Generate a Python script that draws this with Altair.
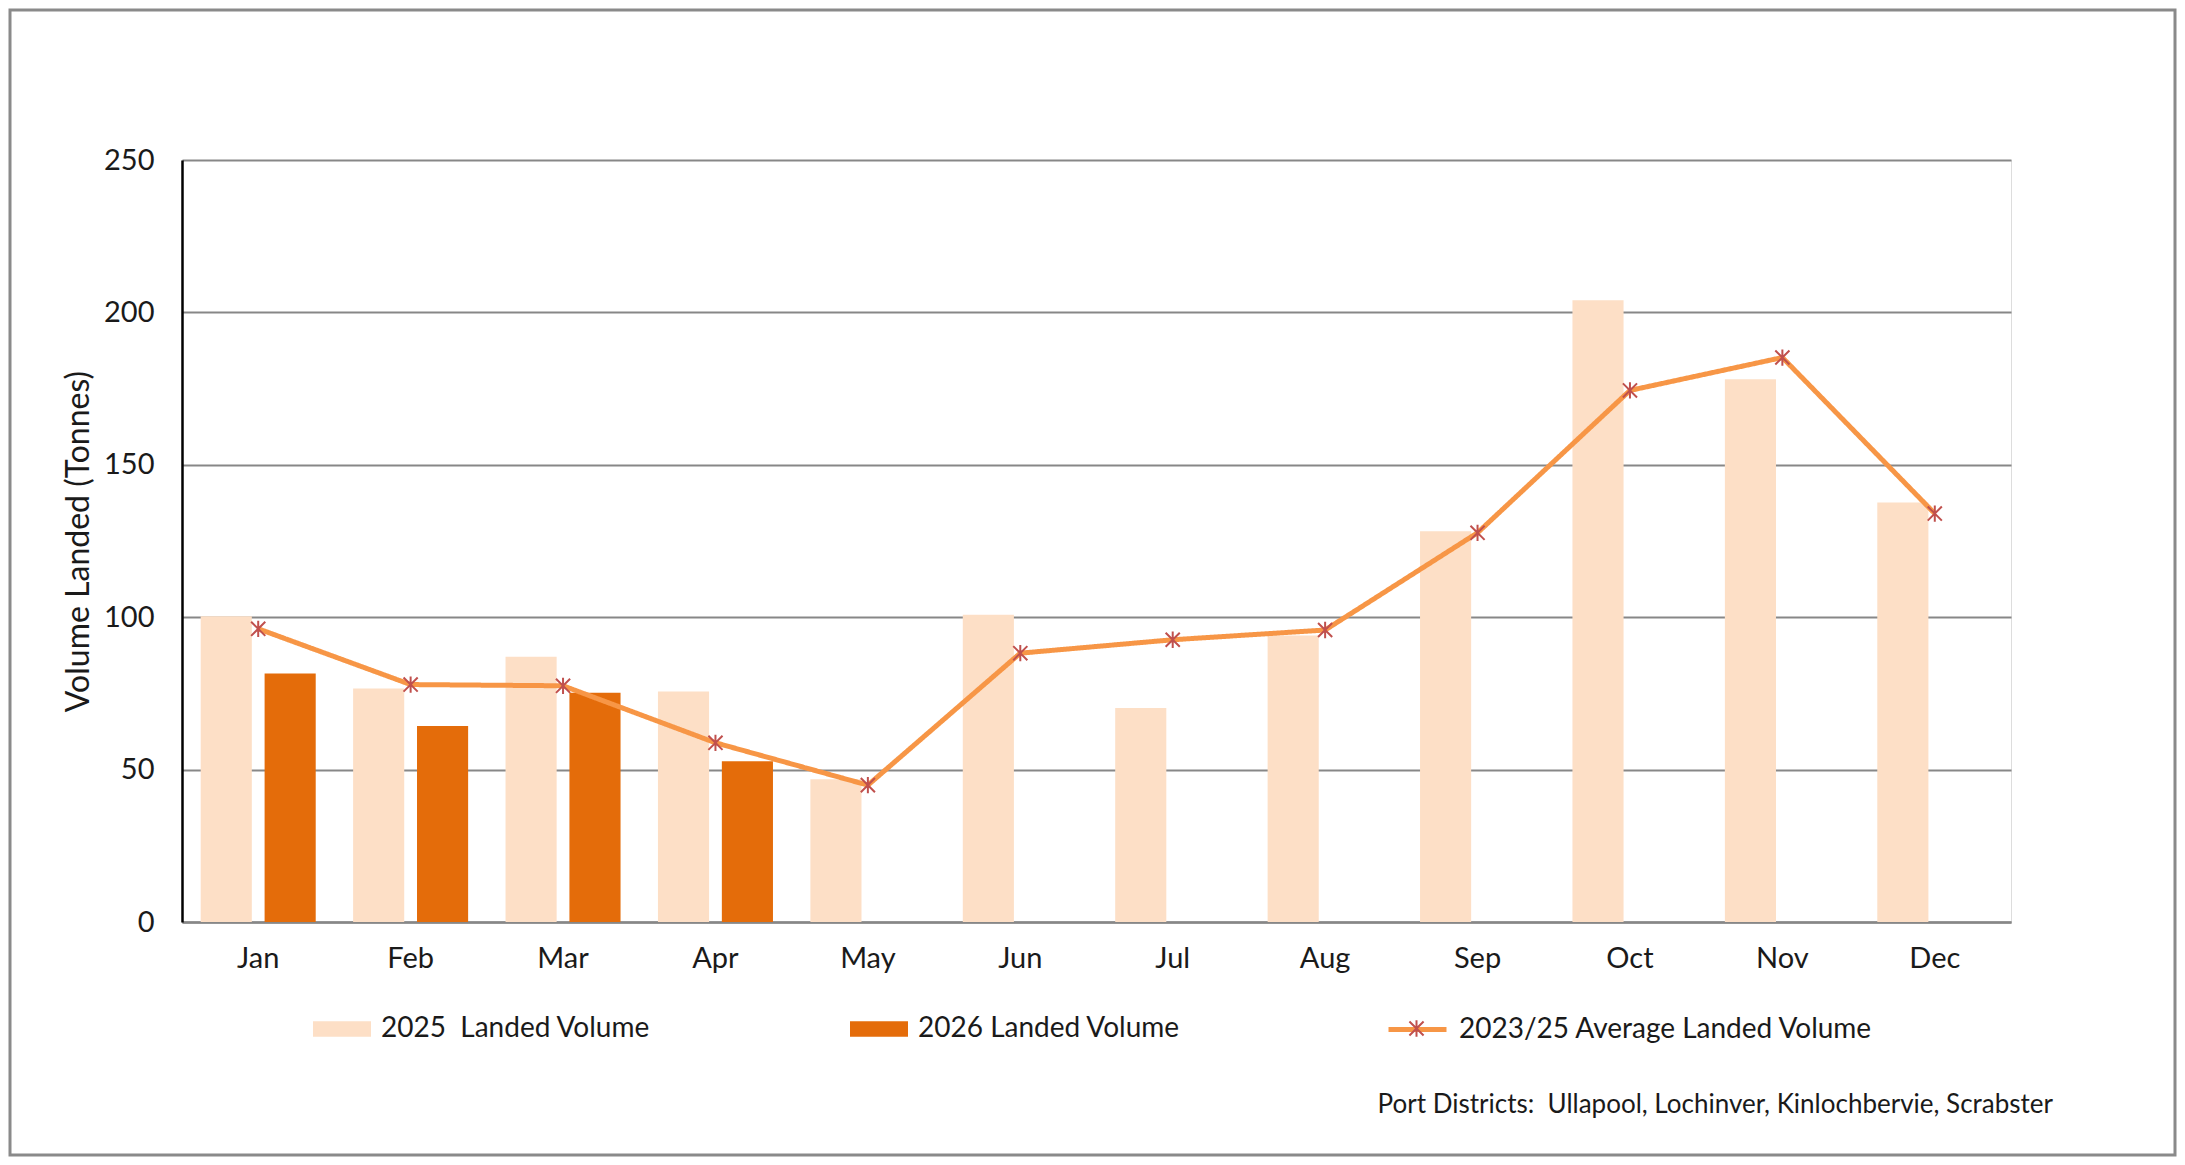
import altair as alt
import pandas as pd

months = ["Jan", "Feb", "Mar", "Apr", "May", "Jun", "Jul", "Aug", "Sep", "Oct", "Nov", "Dec"]
vol_2025 = [100.3, 76.6, 87.0, 75.6, 46.8, 100.8, 70.2, 94.0, 128.2, 204.0, 178.1, 137.6]
months_2026 = ["Jan", "Feb", "Mar", "Apr"]
vol_2026 = [81.5, 64.3, 75.2, 52.7]
avg_2325 = [96.2, 77.9, 77.5, 58.8, 44.9, 88.2, 92.6, 95.8, 127.7, 174.4, 185.2, 134.0]

S2025 = "2025\u00a0 Landed Volume"
S2026 = "2026 Landed Volume"
SAVG = "2023/25 Average Landed Volume"
bar_series = [S2025, S2026]
bar_colors = ["#FDDFC6", "#E46C0A"]
line_color = "#F79646"
marker_color = "#C0504D"
caption = "Port Districts:\u00a0 Ullapool, Lochinver, Kinlochbervie, Scrabster"
y_title = "Volume Landed (Tonnes)"

FONT = "Lato"
TXT = "#1a1a1a"
GRID = "#878787"

bars_df = pd.DataFrame(
    [{"month": m, "series": S2025, "value": v} for m, v in zip(months, vol_2025)]
    + [{"month": m, "series": S2026, "value": v} for m, v in zip(months_2026, vol_2026)]
)
line_df = pd.DataFrame({"month": months, "series": SAVG, "value": avg_2325, "marker": "avg"})
caption_df = pd.DataFrame({"text": [caption]})

ASTER = "M-1,-1L1,1M-1,1L1,-1M0,-1.15L0,1.15"
RECT = "M-1,-0.27H1V0.27H-1Z"
HLINE = "M-1,0H1"

x_enc = alt.X(
    "month:N", sort=months, title=None,
    scale=alt.Scale(paddingInner=0.2454, paddingOuter=0.1227),
    axis=alt.Axis(labelAngle=0, labelFont=FONT, labelFontSize=29, labelColor=TXT,
                  labelPadding=22, ticks=False, domainColor=GRID, domainWidth=2.5, grid=False),
)
y_enc = alt.Y(
    "value:Q", title=y_title,
    scale=alt.Scale(domain=[0, 250], nice=False, zero=True),
    axis=alt.Axis(values=[0, 50, 100, 150, 200, 250], labelFont=FONT, labelFontSize=29,
                  labelColor=TXT, labelPadding=28, ticks=False, domainColor="#000000",
                  domainWidth=2.5, gridColor=GRID, gridWidth=2, titleFont=FONT,
                  titleFontSize=32, titleFontWeight="normal", titleColor=TXT,
                  titleX=-104, titleY=381, titleAngle=-90, titleAlign="center",
                  titleBaseline="middle"),
)

bars = alt.Chart(bars_df).mark_bar(opacity=1).encode(
    x=x_enc,
    xOffset=alt.XOffset("series:N", sort=bar_series, scale=alt.Scale(paddingInner=0.2)),
    y=y_enc,
    color=alt.Color(
        "series:N", sort=bar_series,
        scale=alt.Scale(domain=bar_series, range=bar_colors),
        legend=alt.Legend(orient="none", legendX=131, legendY=840, direction="horizontal",
                          title=None, labelFont=FONT, labelFontSize=28, labelColor=TXT,
                          labelOffset=10, labelLimit=0, columnPadding=199, symbolSize=3364,
                          symbolType=RECT, symbolStrokeWidth=0, symbolOpacity=1),
    ),
)

line = alt.Chart(line_df).mark_line(strokeWidth=5, color=line_color).encode(
    x=x_enc, y=y_enc,
    strokeDash=alt.StrokeDash(
        "series:N", scale=alt.Scale(domain=[SAVG], range=[[1, 0]]),
        legend=alt.Legend(orient="none", legendX=1204, legendY=838, title=None,
                          labelFont=FONT, labelFontSize=28, labelColor=TXT, labelOffset=10,
                          labelLimit=0, symbolSize=3364, symbolType=HLINE,
                          symbolStrokeColor=line_color, symbolStrokeWidth=5, symbolOpacity=1),
    ),
)

points = alt.Chart(line_df).mark_point(filled=False, color=marker_color, strokeWidth=2,
                                       size=200, opacity=1).encode(
    x=x_enc, y=y_enc,
    shape=alt.Shape(
        "marker:N", scale=alt.Scale(domain=["avg"], range=[ASTER]),
        legend=alt.Legend(orient="none", legendX=1226, legendY=860, title=None,
                          labelExpr="''", symbolSize=200, symbolStrokeColor=marker_color,
                          symbolStrokeWidth=2, symbolOpacity=1),
    ),
)

note = alt.Chart(caption_df).mark_text(
    align="right", baseline="middle", font=FONT, fontSize=26, color=TXT
).encode(text="text:N", x=alt.value(1871), y=alt.value(945))

frame_df = pd.DataFrame({"k": [0]})
frame = alt.Chart(frame_df).mark_rect(fill="transparent", stroke="#8a8a8a", strokeWidth=3).encode(
    x=alt.value(-172), x2=alt.value(1993), y=alt.value(-150), y2=alt.value(995),
)

chart = alt.layer(frame, bars, line, points, note).properties(
    width=1829, height=762,
    autosize=alt.AutoSizeParams(type="none"),
    padding={"left": 174, "top": 152, "right": 166, "bottom": 235},
).configure_view(stroke=None).configure(background="white")

chart.save("out.html", embed_options={"renderer": "svg", "actions": False})
